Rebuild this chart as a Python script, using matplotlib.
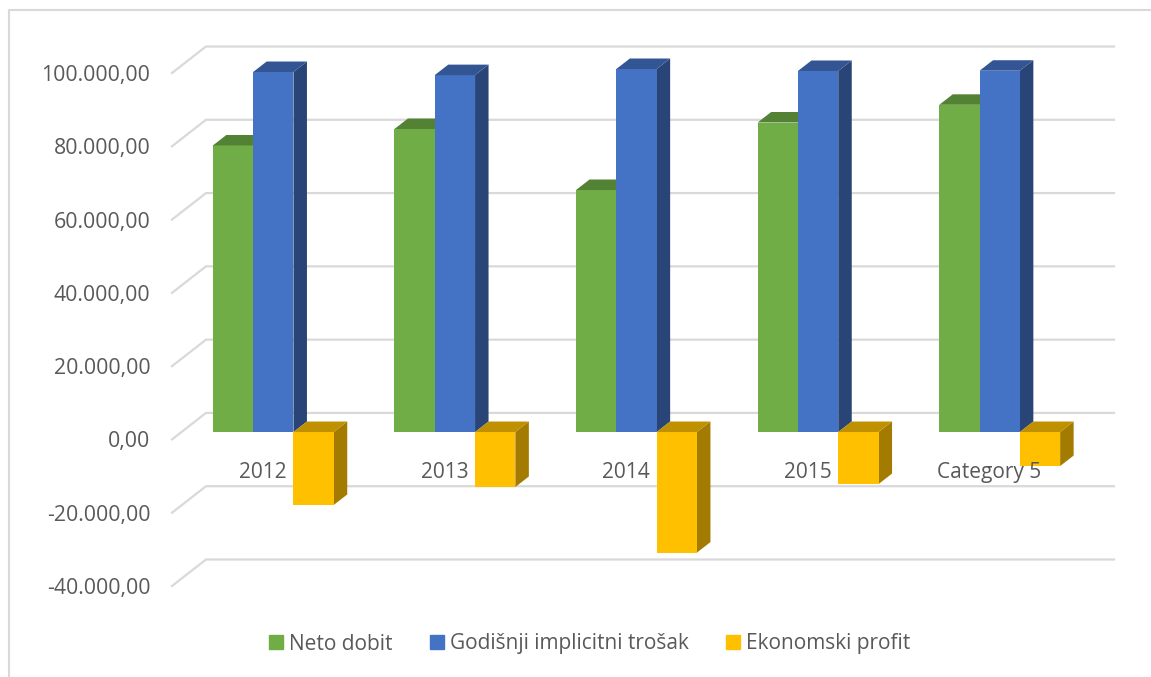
import matplotlib
matplotlib.use('Agg')
import matplotlib.pyplot as plt
from matplotlib.lines import Line2D
from matplotlib.patches import Patch

categories = ['2012', '2013', '2014', '2015', 'Category 5']
neto_dobit = [78200, 82700, 66050, 84470, 89300]
implicitni_trosak = [98250, 97400, 99070, 98530, 98600]
ekonomski_profit = [-19900, -15000, -32900, -14200, -9280]
y_ticks = [-40000, -20000, 0, 20000, 40000, 60000, 80000, 100000]
y_labels = ['-40.000,00', '-20.000,00', '0,00', '20.000,00', '40.000,00',
            '60.000,00', '80.000,00', '100.000,00']

# front, top and side colours of every series
green = ('#70AD47', '#548235', '#43682B')
blue = ('#4472C4', '#335593', '#294476')
yellow = ('#FFC000', '#BF9000', '#A37B00')

W, H = 1151, 677
X_PX = 908 / 5  # pixels per category
Y_PX = 513 / 140000  # pixels per unit

plt.rcParams['font.family'] = ['Open Sans', 'DejaVu Sans']
fig = plt.figure(figsize=(W / 100, H / 100), dpi=100)
ax = fig.add_axes([172 / W, (H - 586) / H, 908 / W, 513 / H])
ax.patch.set_visible(False)
for spine in ax.spines.values():
    spine.set_visible(False)

# back wall grid and the slanted lines to the front plane
wall_dx, wall_dy = 34 / X_PX, 26.5 / Y_PX
for tick in y_ticks:
    ax.plot([-0.5, -0.5 + wall_dx, 4.5 + wall_dx], [tick, tick + wall_dy, tick + wall_dy],
            color='#D9D9D9', lw=1.6, clip_on=False, zorder=0.5, solid_joinstyle='miter')

bar_w = 40.3 / X_PX
shift_x = 10.5 / X_PX
lift = 7.4 / Y_PX
depth_x, depth_y = 13.5 / X_PX, 10.5 / Y_PX


def draw_bar(left, value, colors):
    base = lift
    top = value + lift
    upper = max(base, top)
    right = left + bar_w
    ax.fill([right, right + depth_x, right + depth_x, right],
            [base, base + depth_y, top + depth_y, top],
            color=colors[2], lw=0, clip_on=False, zorder=1)
    ax.bar(left, value, bar_w, bottom=base, align='edge', color=colors[0],
           lw=0, clip_on=False, zorder=1)
    ax.fill([left, left + depth_x, right + depth_x, right],
            [upper, upper + depth_y, upper + depth_y, upper],
            color=colors[1], lw=0, clip_on=False, zorder=1)


for i in range(len(categories)):
    start = i + shift_x - 1.5 * bar_w
    draw_bar(start, neto_dobit[i], green)
    draw_bar(start + bar_w, implicitni_trosak[i], blue)
    draw_bar(start + 2 * bar_w, ekonomski_profit[i], yellow)

ax.set_xlim(-0.5, 4.5)
ax.set_ylim(-40000, 100000)
ax.set_axisbelow(False)
ax.set_yticks(y_ticks)
ax.set_yticklabels(y_labels)
ax.set_xticks(range(len(categories)))
ax.set_xticklabels(categories)
ax.spines['bottom'].set_position(('data', 0))
ax.tick_params(axis='y', length=0, pad=15.5, labelsize=15.3, labelcolor='#595959')
ax.tick_params(axis='x', length=0, pad=16, labelsize=15, labelcolor='#595959')

handles = [Patch(color=green[0], label='Neto dobit'),
           Patch(color=blue[0], label='Godišnji implicitni trošak'),
           Patch(color=yellow[0], label='Ekonomski profit')]
fig.legend(handles=handles, ncol=3, loc='center', bbox_to_anchor=(589.5 / W, (H - 644) / H),
           frameon=False, fontsize=15, labelcolor='#595959', borderpad=0, borderaxespad=0,
           handlelength=0.67, handleheight=0.67, handletextpad=0.29, columnspacing=1.78)

# chart frame, only top and left are inside the picture
fig.add_artist(Line2D([9 / W, 9 / W, 1], [0, (H - 10) / H, (H - 10) / H],
                      color='#D9D9D9', lw=1.5, transform=fig.transFigure))

fig.savefig('out.png', dpi=100)
